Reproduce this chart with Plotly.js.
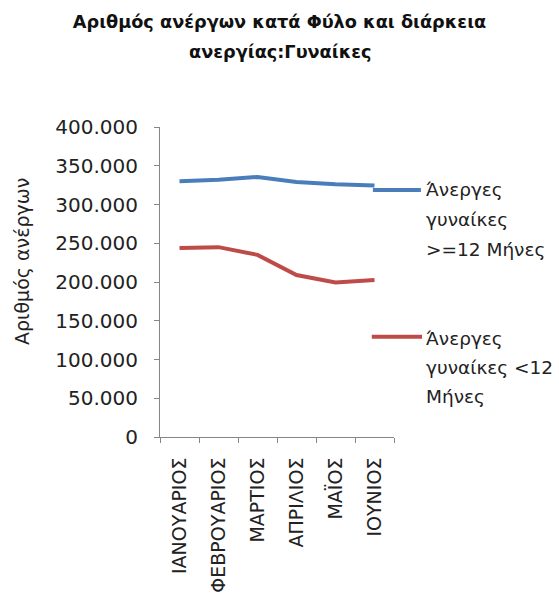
<!DOCTYPE html>
<html><head><meta charset="utf-8">
<script src="https://cdn.plot.ly/plotly-3.0.1.min.js"></script>
<style>html,body{margin:0;padding:0;background:#fff}#chart{width:559px;height:603px}</style>
</head><body><div id="chart"></div>
<script>
const months = ["ΙΑΝΟΥΑΡΙΟΣ","ΦΕΒΡΟΥΑΡΙΟΣ","ΜΑΡΤΙΟΣ","ΑΠΡΙΛΙΟΣ","ΜΑΪΟΣ","ΙΟΥΝΙΟΣ"];
const longTerm = [330000, 332000, 335500, 329000, 326000, 324500];
const shortTerm = [244000, 245000, 235000, 209000, 199500, 202500];
const longName = ["Άνεργες","γυναίκες",">=12 Μήνες"];
const shortName = ["Άνεργες","γυναίκες <12","Μήνες"];
const titleLines = ["Αριθμός ανέργων κατά Φύλο και διάρκεια","ανεργίας:Γυναίκες"];
const yTitle = "Αριθμός ανέργων";

const blue = "#4A7EBB", red = "#BE4B48";
const F = "DejaVu Sans";

const traces = [
  {x: months, y: longTerm, type: "scatter", mode: "lines", name: longName.join(" "),
   line: {color: blue, width: 4}},
  {x: months, y: shortTerm, type: "scatter", mode: "lines", name: shortName.join(" "),
   line: {color: red, width: 4}}
];

const annotations = [];
longName.forEach((t, i) => annotations.push({xref: "paper", yref: "paper", x: 1.13, y: 0.797 - i * 30 / 310,
  xanchor: "left", yanchor: "middle", text: t, showarrow: false, font: {family: F, size: 18.5, color: "#222"}}));
shortName.forEach((t, i) => annotations.push({xref: "paper", yref: "paper", x: 1.13, y: 0.318 - i * 29 / 310,
  xanchor: "left", yanchor: "middle", text: t, showarrow: false, font: {family: F, size: 18.5, color: "#222"}}));
annotations.push({xref: "paper", yref: "paper", x: 0.513, y: (437 - 52) / 310, xanchor: "center", yanchor: "middle",
  text: "<b>" + titleLines[1] + "</b>", showarrow: false, font: {family: F, size: 17.7, color: "#111"}});
annotations.push({xref: "paper", yref: "paper", x: (22 - 160) / 234, y: (437 - 262) / 310, xanchor: "center", yanchor: "middle",
  textangle: -90, text: yTitle, showarrow: false, font: {family: F, size: 19, color: "#222"}});

const shapes = [
  {type: "line", xref: "paper", yref: "paper", x0: 0.91, x1: 1.115, y0: 0.797, y1: 0.797, line: {color: blue, width: 4}},
  {type: "line", xref: "paper", yref: "paper", x0: 0.905, x1: 1.12, y0: 0.323, y1: 0.323, line: {color: red, width: 4}}
];

const layout = {
  width: 559, height: 603,
  paper_bgcolor: "#fff", plot_bgcolor: "#fff",
  margin: {l: 160, r: 165, t: 127, b: 166},
  separators: ",.",
  showlegend: false,
  title: {text: "<b>" + titleLines[0] + "</b>", x: 0.5, xref: "container", xanchor: "center",
    y: 1 - 22 / 603, yref: "container", yanchor: "middle", font: {family: F, size: 17.7, color: "#111"}},
  font: {family: F, color: "#222"},
  xaxis: {type: "category", showgrid: false, showline: true, linecolor: "#868686", linewidth: 1,
    ticks: "outside", tickson: "boundaries", ticklen: 5, tickcolor: "#868686", ticklabelstandoff: 12,
    tickangle: -90, tickfont: {family: F, size: 19, color: "#222"}, range: [-0.5, 5.5], zeroline: false},
  yaxis: {range: [0, 400000], dtick: 50000, tickformat: ",d", showgrid: false, showline: true,
    linecolor: "#868686", linewidth: 1, ticks: "outside", ticklen: 5, tickcolor: "#868686",
    ticklabelstandoff: 12,
    tickfont: {family: F, size: 20, color: "#222"}, zeroline: false},
  annotations: annotations,
  shapes: shapes
};

Plotly.newPlot("chart", traces, layout, {displayModeBar: false, staticPlot: true});
</script></body></html>
